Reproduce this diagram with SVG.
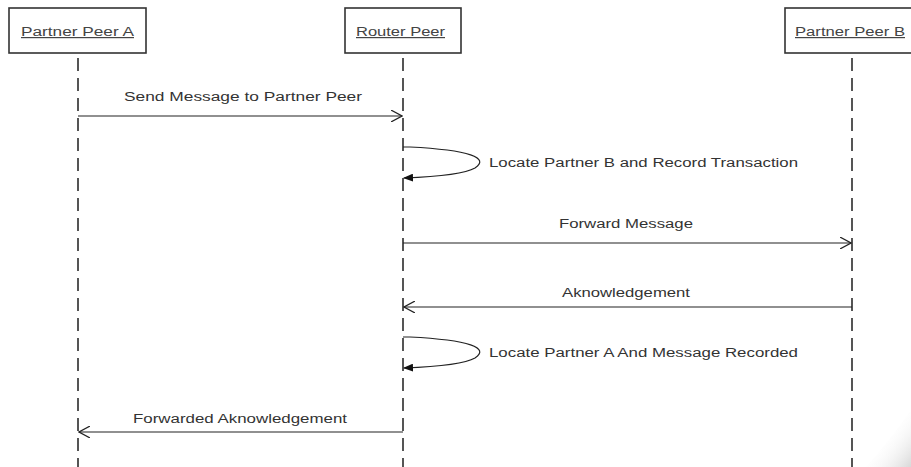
<svg xmlns="http://www.w3.org/2000/svg" width="911" height="467" viewBox="0 0 911 467">
<defs>
<style>
.box{fill:#fff;stroke:#333;stroke-width:1.6}
.hd{font-family:"Liberation Sans",Arial,sans-serif;font-size:12px;fill:#444;text-decoration:underline}
.lbl{font-family:"Liberation Sans",Arial,sans-serif;font-size:12.5px;fill:#333}
.life{stroke:#555;stroke-width:2;stroke-dasharray:13 7;fill:none}
.msg{stroke:#222;stroke-width:1.2;fill:none}
</style>
<marker id="open" viewBox="0 0 12 12" refX="11" refY="6" markerWidth="12" markerHeight="12" markerUnits="userSpaceOnUse" orient="auto">
<path d="M0,0 L11,6 L0,12" fill="none" stroke="#222" stroke-width="1.2"/>
</marker>
<marker id="fill" viewBox="0 0 10 8" refX="9" refY="4" markerWidth="10" markerHeight="8" markerUnits="userSpaceOnUse" orient="auto">
<path d="M0,0 L10,4 L0,8 Z" fill="#111"/>
</marker>
<linearGradient id="curl" x1="1" y1="1" x2="0.4" y2="0.4">
<stop offset="0" stop-color="#d8d8d8"/>
<stop offset="1" stop-color="#fff" stop-opacity="0"/>
</linearGradient>
</defs>
<rect width="911" height="467" fill="#fff"/>
<path d="M866,467 Q890,440 911,410 L911,467 Z" fill="url(#curl)"/>
<g id="lifelines">
<line class="life" x1="78" y1="58" x2="78" y2="467"/>
<line class="life" x1="403" y1="58" x2="403" y2="467"/>
<line class="life" x1="852" y1="58" x2="852" y2="467"/>
</g>
<g id="partnerA">
<rect class="box" x="9" y="8" width="137" height="45"/>
<text class="hd" x="77.5" y="36" text-anchor="middle" textLength="113" lengthAdjust="spacingAndGlyphs">Partner Peer A</text>
</g>
<g id="router">
<rect class="box" x="345" y="8" width="116" height="45"/>
<text class="hd" x="400.5" y="36" text-anchor="middle" textLength="89" lengthAdjust="spacingAndGlyphs">Router Peer</text>
</g>
<g id="partnerB">
<rect class="box" x="785" y="8" width="140" height="45"/>
<text class="hd" x="850" y="36" text-anchor="middle" textLength="110" lengthAdjust="spacingAndGlyphs">Partner Peer B</text>
</g>
<g id="connectors">
<line class="msg" x1="78" y1="116" x2="402" y2="116" marker-end="url(#open)"/>
<path class="msg" d="M403,147 L410,147 C470,150 490,158 475,168 C465,174 430,177 404,178" marker-end="url(#fill)"/>
<line class="msg" x1="403" y1="243" x2="851" y2="243" marker-end="url(#open)"/>
<line class="msg" x1="852" y1="307" x2="404" y2="307" marker-end="url(#open)"/>
<path class="msg" d="M403,337 L410,337 C470,340 490,348 475,358 C465,364 430,367 404,368" marker-end="url(#fill)"/>
<line class="msg" x1="403" y1="432" x2="79" y2="432" marker-end="url(#open)"/>
</g>
<g id="labels">
<text class="lbl" x="243" y="101" text-anchor="middle" textLength="238" lengthAdjust="spacingAndGlyphs">Send Message to Partner Peer</text>
<text class="lbl" x="489" y="167" textLength="309" lengthAdjust="spacingAndGlyphs">Locate Partner B and Record Transaction</text>
<text class="lbl" x="626" y="228" text-anchor="middle" textLength="134" lengthAdjust="spacingAndGlyphs">Forward Message</text>
<text class="lbl" x="626" y="297" text-anchor="middle" textLength="128" lengthAdjust="spacingAndGlyphs">Aknowledgement</text>
<text class="lbl" x="489" y="357" textLength="309" lengthAdjust="spacingAndGlyphs">Locate Partner A And Message Recorded</text>
<text class="lbl" x="240" y="423" text-anchor="middle" textLength="214" lengthAdjust="spacingAndGlyphs">Forwarded Aknowledgement</text>
</g>
</svg>
